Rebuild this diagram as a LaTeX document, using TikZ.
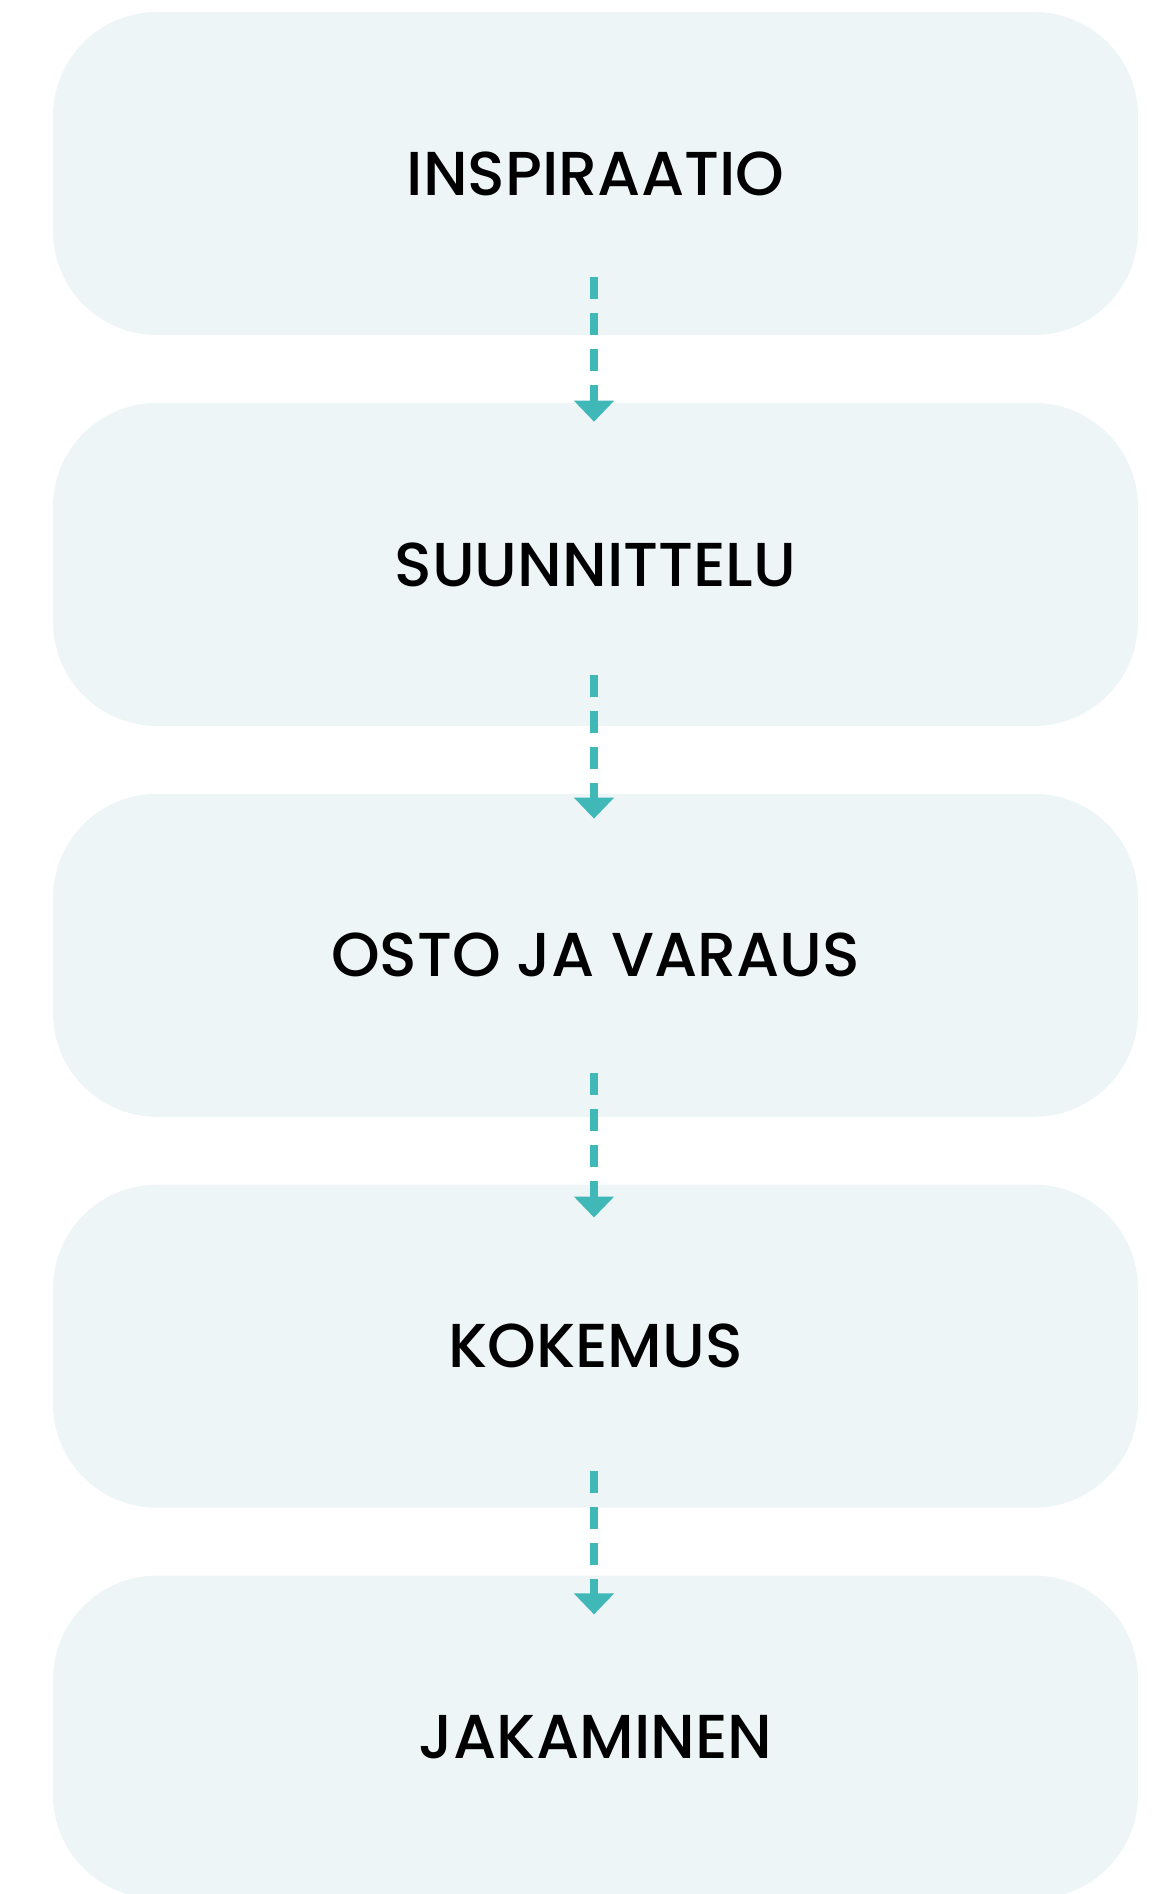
\documentclass[tikz,border=0pt]{standalone}
\usepackage{fontspec}
\setmainfont{Poppins}[UprightFont=* Medium]
\usetikzlibrary{positioning,arrows.meta}
\definecolor{stagefill}{RGB}{237,245,247}
\definecolor{flowteal}{RGB}{64,184,184}

\begin{document}
\begin{tikzpicture}[x=1pt,y=1pt,
  stage/.style={fill=stagefill, rounded corners=104pt, minimum width=1085pt, minimum height=323pt, inner sep=0pt, font=\fontsize{62}{70}\selectfont},
  flow/.style={flowteal, line width=8pt, dash pattern=on 22pt off 14pt, -{Triangle[width=39pt,length=21pt]}},
  node distance=67.5pt]
% page size of the picture
\useasboundingbox (0,0) rectangle (1158,-1894);
\clip (0,0) rectangle (1158,-1894);
% Stages of the journey, top to bottom
\node[stage] (s1) at (595.5,-173.5) {INSPIRAATIO};
\node[stage, below=of s1] (s2) {SUUNNITTELU};
\node[stage, below=of s2] (s3) {OSTO JA VARAUS};
\node[stage, below=of s3] (s4) {KOKEMUS};
\node[stage, below=of s4] (s5) {JAKAMINEN};
% Dashed arrows between the stages
\foreach \a/\b/\s/\e in {s1/s2/58/19, s2/s3/51/25, s3/s4/44/33, s4/s5/37/39}
  \draw[flow] ([xshift=-1.5pt,yshift=\s pt]\a.south) -- ([xshift=-1.5pt,yshift=-\e pt]\b.north);
\end{tikzpicture}
\end{document}
